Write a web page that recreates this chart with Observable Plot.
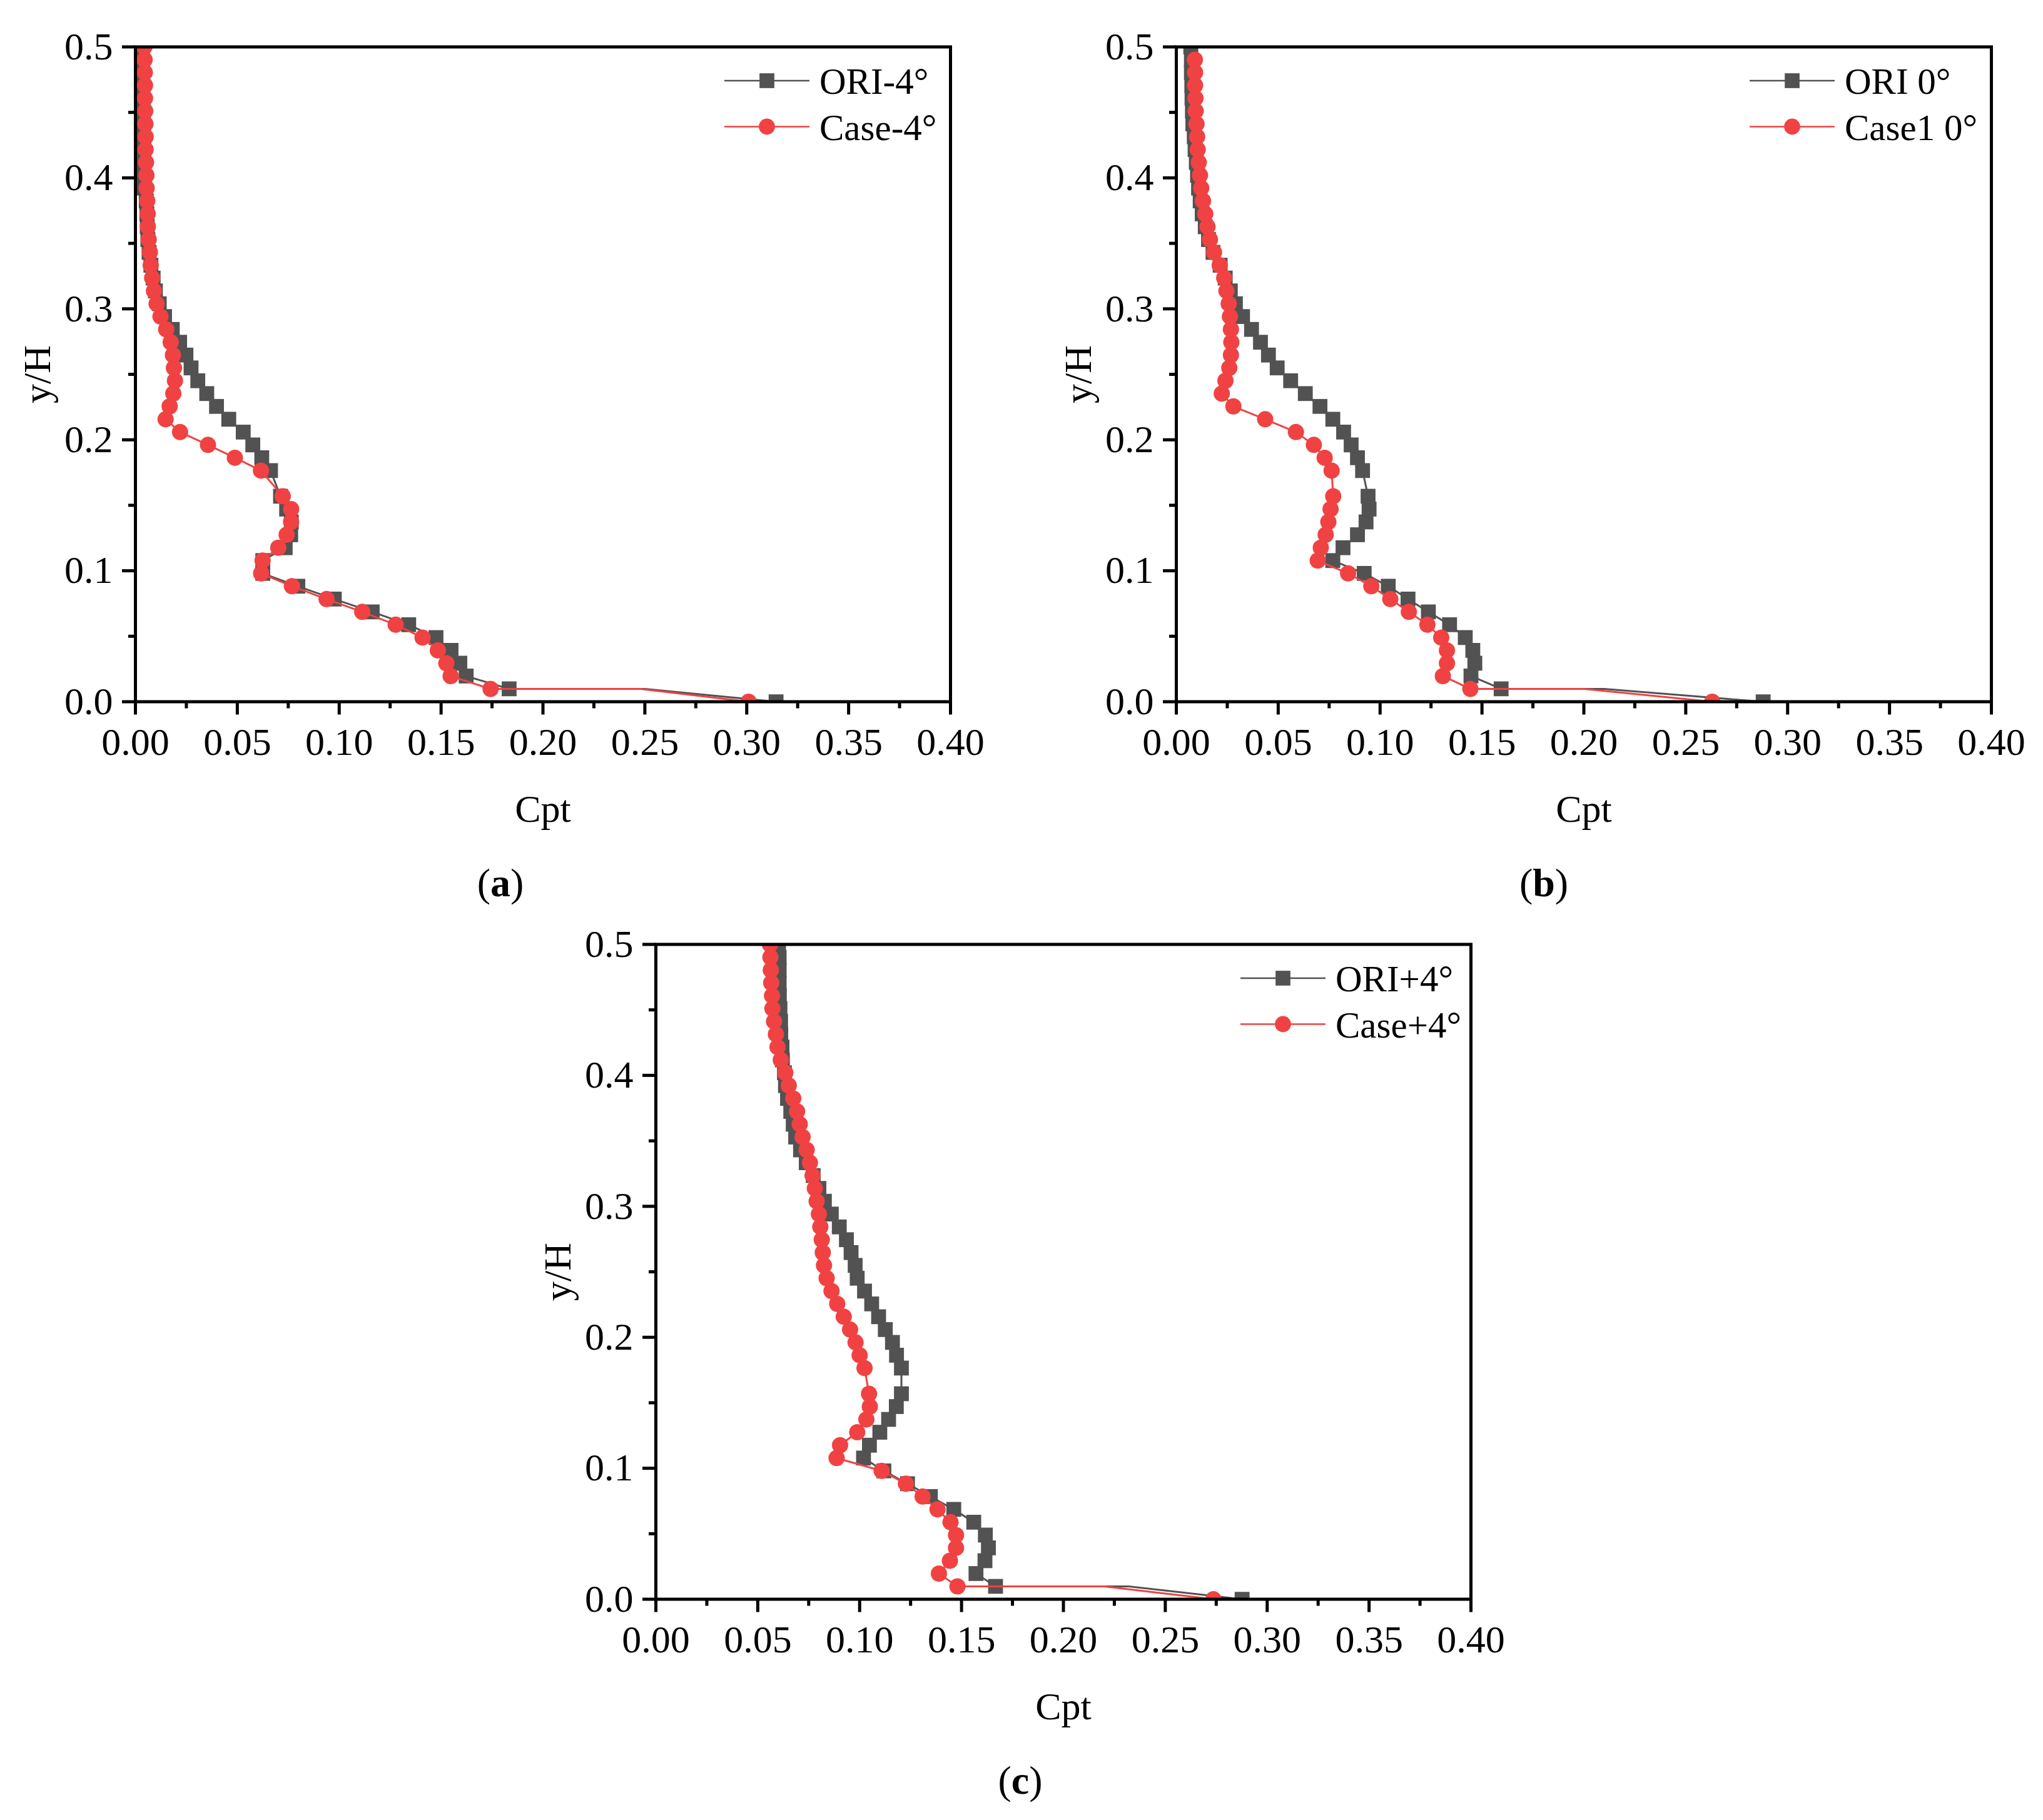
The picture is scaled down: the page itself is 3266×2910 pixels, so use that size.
<!DOCTYPE html>
<html><head><meta charset="utf-8">
<script src="https://cdn.jsdelivr.net/npm/d3@7"></script>
<script src="https://cdn.jsdelivr.net/npm/@observablehq/plot@0.6"></script>
<style>
body{margin:0;background:#fff;}
#fig{position:relative;width:3266px;height:2910px;background:#fff;}
.panel{position:absolute;}
</style></head><body><div id="fig"></div>
<script>
// shared y/H positions (marker levels)
const yH = [0, 0.0098, 0.0196, 0.0294, 0.0392, 0.049, 0.0588, 0.0686, 0.0784, 0.0882, 0.098, 0.1078, 0.1176, 0.1275, 0.1373, 0.1471, 0.1569,
  0.1765, 0.1863, 0.1961, 0.2059, 0.2157, 0.2255, 0.2353, 0.2451, 0.2549, 0.2647, 0.2745, 0.2843, 0.2941, 0.3039, 0.3137, 0.3235, 0.3333,
  0.3431, 0.3529, 0.3627, 0.3725, 0.3824, 0.3922, 0.402, 0.4118, 0.4216, 0.4314, 0.4412, 0.451, 0.4608, 0.4706, 0.4804, 0.4902, 0.5];

// (a)
const oriA = [0.3144, 0.1834, 0.1623, 0.1592, 0.1549, 0.1475, 0.1341, 0.1162, 0.0976, 0.0797, 0.0625, 0.0625, 0.0735, 0.0762, 0.0765, 0.0742, 0.0712,
  0.0663, 0.062, 0.0576, 0.0529, 0.0458, 0.0398, 0.035, 0.0306, 0.0273, 0.0248, 0.0217, 0.0181, 0.0143, 0.0117, 0.0098, 0.0087, 0.0076, 0.0067,
  0.0061, 0.0058, 0.0056, 0.0053, 0.0044, 0.0043, 0.0042, 0.0041, 0.004, 0.0039, 0.0038, 0.0037, 0.0036, 0.0035, 0.0034, 0.0033];
const caseA = [0.3009, 0.1743, 0.1547, 0.1526, 0.1484, 0.1409, 0.1277, 0.1113, 0.0938, 0.0768, 0.0617, 0.0624, 0.0701, 0.0742, 0.0764, 0.0764, 0.0723,
  0.0616, 0.0488, 0.0356, 0.0219, 0.0148, 0.0168, 0.0186, 0.0194, 0.0189, 0.0184, 0.0173, 0.0151, 0.0123, 0.0104, 0.0091, 0.0082, 0.0075, 0.0071,
  0.0065, 0.0061, 0.006, 0.0058, 0.0055, 0.0054, 0.0052, 0.005, 0.005, 0.0049, 0.0048, 0.0047, 0.0047, 0.0046, 0.0045, 0.0044];
// (b)
const oriB = [0.288, 0.1594, 0.1446, 0.1465, 0.1455, 0.1418, 0.1341, 0.1237, 0.1137, 0.104, 0.0922, 0.0768, 0.0818, 0.0889, 0.0931, 0.0946, 0.0941,
  0.0914, 0.0889, 0.0858, 0.0821, 0.0768, 0.0705, 0.0633, 0.0561, 0.0495, 0.0452, 0.0413, 0.0369, 0.0325, 0.029, 0.0265, 0.024, 0.0215, 0.018,
  0.0158, 0.0142, 0.0127, 0.0117, 0.0109, 0.0104, 0.0098, 0.0092, 0.0088, 0.0081, 0.0079, 0.0077, 0.0076, 0.0074, 0.0074, 0.0071];
const caseB = [0.263, 0.1443, 0.1308, 0.1328, 0.1328, 0.130, 0.1232, 0.1141, 0.105, 0.0957, 0.0843, 0.0694, 0.0709, 0.0733, 0.0746, 0.0757, 0.077,
  0.0762, 0.0728, 0.0675, 0.0587, 0.0436, 0.028, 0.0223, 0.0241, 0.026, 0.0268, 0.027, 0.0268, 0.0263, 0.0257, 0.0246, 0.0235, 0.0213, 0.0185,
  0.0165, 0.0153, 0.0142, 0.0131, 0.0122, 0.0116, 0.011, 0.0105, 0.0102, 0.0099, 0.0095, 0.0094, 0.0092, 0.0092, 0.0091];
// (c)
const oriC = [0.2877, 0.1667, 0.1571, 0.1615, 0.1632, 0.1617, 0.156, 0.1462, 0.1347, 0.1235, 0.1119, 0.1019, 0.1048, 0.1099, 0.1142, 0.118, 0.1205,
  0.1205, 0.1181, 0.1161, 0.1126, 0.1093, 0.1059, 0.1024, 0.0988, 0.0978, 0.0958, 0.0935, 0.09, 0.0861, 0.0827, 0.08, 0.0772, 0.0738, 0.071,
  0.0686, 0.0674, 0.0662, 0.0646, 0.0636, 0.0631, 0.0621, 0.0619, 0.0613, 0.0612, 0.0609, 0.0606, 0.0605, 0.0605, 0.0605, 0.0602];
const caseC = [0.2736, 0.148, 0.1389, 0.1443, 0.1473, 0.1473, 0.1446, 0.1382, 0.1309, 0.1227, 0.1108, 0.0887, 0.0904, 0.0988, 0.1033, 0.105, 0.1046,
  0.1024, 0.10, 0.098, 0.0953, 0.0922, 0.089, 0.0862, 0.0838, 0.0825, 0.0819, 0.0814, 0.0807, 0.08, 0.0789, 0.078, 0.0769, 0.0756, 0.074,
  0.072, 0.0706, 0.0693, 0.0674, 0.0652, 0.0635, 0.0613, 0.0597, 0.0589, 0.058, 0.0572, 0.057, 0.0566, 0.0564, 0.0562, 0.056];

// unmarked line vertex at the first level (ORI, Case) per panel
const kinkX = [[0.250, 0.2478], [0.210, 0.200], [0.232, 0.220]];

const legendLabels = [["ORI-4°", "Case-4°"], ["ORI 0°", "Case1 0°"], ["ORI+4°", "Case+4°"]];
const panelLetters = ["a", "b", "c"];

const xTicks = [0, 0.05, 0.10, 0.15, 0.20, 0.25, 0.30, 0.35, 0.40];
const xMinor = [0.025, 0.075, 0.125, 0.175, 0.225, 0.275, 0.325, 0.375];
const yTicks = [0, 0.1, 0.2, 0.3, 0.4, 0.5];
const yMinor = [0.05, 0.15, 0.25, 0.35, 0.45];

const GRAY = "#525252", RED = "#f04242";
const FONT = '"Liberation Serif", "Times New Roman", serif';

function makePanel(ori, cas, kink, labels, letter, legendX, letterX) {
  const FW = 1303, FH = 1047;
  const ml = 216, mt = 74.5, mr = 60, mb = 345;
  const pts = xs => yH.map((y, i) => ({x: xs[i], y})).filter(d => d.x != null);
  const oriPts = pts(ori), casPts = pts(cas);
  const withKink = (p, kx) => [p[0], {x: kx, y: p[1].y}, ...p.slice(1)];
  return Plot.plot({
    width: ml + FW + mr, height: mt + FH + mb,
    marginLeft: ml, marginTop: mt, marginRight: mr, marginBottom: mb,
    x: {domain: [0, 0.4]}, y: {domain: [0, 0.5]},
    style: {fontFamily: FONT, fontSize: "62px", color: "black", background: "white", overflow: "visible"},
    marks: [
      Plot.line(withKink(oriPts, kink[0]), {x: "x", y: "y", stroke: GRAY, strokeWidth: 3, clip: true}),
      Plot.dot(oriPts, {x: "x", y: "y", symbol: "square", r: 13.4, fill: GRAY, clip: true}),
      Plot.line(withKink(casPts, kink[1]), {x: "x", y: "y", stroke: RED, strokeWidth: 3, clip: true}),
      Plot.dot(casPts, {x: "x", y: "y", symbol: "circle", r: 13, fill: RED, clip: true}),
      Plot.axisX({ticks: xTicks, tickFormat: d3.format(".2f"), tickSize: 21, tickPadding: 20, strokeWidth: 5, label: null, fontSize: 62}),
      Plot.axisX({ticks: xMinor, tickFormat: () => "", tickSize: 11, strokeWidth: 5, label: null}),
      Plot.axisY({ticks: yTicks, tickFormat: d3.format(".1f"), tickSize: 21, tickPadding: 15, strokeWidth: 5, label: null, fontSize: 62}),
      Plot.axisY({ticks: yMinor, tickFormat: () => "", tickSize: 11, strokeWidth: 5, label: null}),
      Plot.frame({stroke: "black", strokeWidth: 5}),
      Plot.text(["Cpt"], {text: d => d, frameAnchor: "bottom", dy: 191.5, lineAnchor: "bottom", fontSize: 62}),
      Plot.text(["y/H"], {text: d => d, frameAnchor: "left", dx: -137, rotate: -90, lineAnchor: "bottom", textAnchor: "middle", fontSize: 62}),
      (index, scales, values, dims) => {
        const g = d3.create("svg:g");
        const x0 = dims.marginLeft + legendX;
        const rows = [
          {y: dims.marginTop + 54.5, color: GRAY, sq: true, text: labels[0]},
          {y: dims.marginTop + 128, color: RED, sq: false, text: labels[1]}
        ];
        for (const r of rows) {
          g.append("line").attr("x1", x0).attr("x2", x0 + 136).attr("y1", r.y).attr("y2", r.y)
            .attr("stroke", r.color).attr("stroke-width", 2.7);
          if (r.sq) g.append("rect").attr("x", x0 + 68 - 11.85).attr("y", r.y - 11.85).attr("width", 23.7).attr("height", 23.7).attr("fill", r.color);
          else g.append("circle").attr("cx", x0 + 68).attr("cy", r.y).attr("r", 12.9).attr("fill", r.color);
          g.append("text").attr("x", x0 + 152).attr("y", r.y + 21).attr("font-size", 59)
            .attr("text-anchor", "start").attr("fill", "black").text(r.text);
        }
        const t = g.append("text").attr("x", dims.marginLeft + letterX).attr("y", dims.height - dims.marginBottom + 311.5)
          .attr("text-anchor", "middle").attr("font-size", 64).attr("fill", "black");
        t.append("tspan").text("(");
        t.append("tspan").attr("font-weight", "bold").text(letter);
        t.append("tspan").text(")");
        return g.node();
      }
    ]
  });
}

const fig = document.getElementById("fig");
const specs = [
  {ori: oriA, cas: caseA, left: 0, top: 0, lx: 942, tx: 584},
  {ori: oriB, cas: caseB, left: 1664, top: 0, lx: 917, tx: 588},
  {ori: oriC, cas: caseC, left: 832, top: 1434.8, lx: 935, tx: 583}
];
specs.forEach((s, i) => {
  const div = document.createElement("div");
  div.className = "panel";
  div.style.left = s.left + "px";
  div.style.top = s.top + "px";
  div.appendChild(makePanel(s.ori, s.cas, kinkX[i], legendLabels[i], panelLetters[i], s.lx, s.tx));
  fig.appendChild(div);
});
</script></body></html>
